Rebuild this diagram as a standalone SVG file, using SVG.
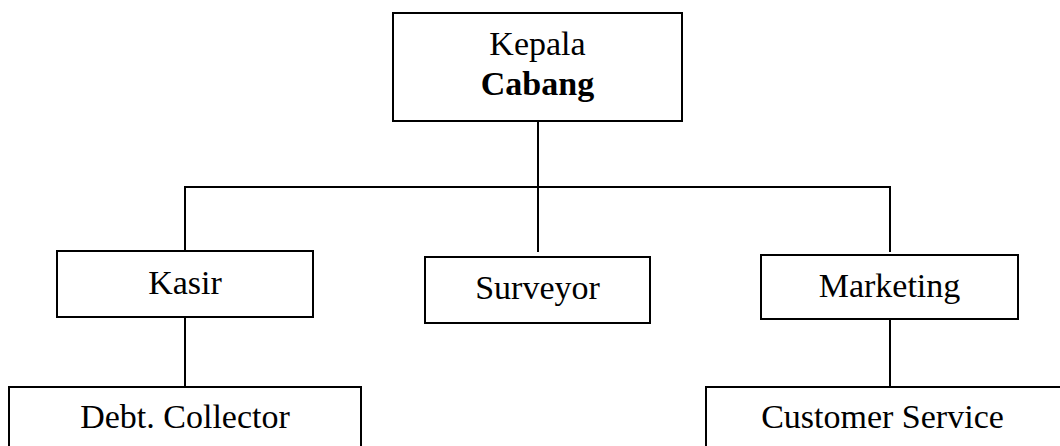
<svg xmlns="http://www.w3.org/2000/svg" width="1060" height="446" viewBox="0 0 1060 446">
<style>
.box{fill:#fff;stroke:#000;stroke-width:2}
.lbl{font-family:"Liberation Serif","Times New Roman",serif;font-size:34px;fill:#000;text-anchor:middle}
.b{font-weight:bold}
.con line{stroke:#000;stroke-width:2}
</style>
<rect width="1060" height="446" fill="#fff"/>
<g class="con" id="connectors">
<line x1="538" y1="121" x2="538" y2="252"/>
<line x1="184" y1="187" x2="891" y2="187"/>
<line x1="185" y1="186" x2="185" y2="251"/>
<line x1="890" y1="186" x2="890" y2="252"/>
<line x1="185" y1="317" x2="185" y2="387"/>
<line x1="890" y1="319" x2="890" y2="387"/>
</g>
<g id="kepala-cabang">
<rect class="box" x="393" y="13" width="289" height="108"/>
<text class="lbl" x="537.5" y="55">Kepala</text>
<text class="lbl b" x="537.5" y="95">Cabang</text>
</g>
<g id="kasir">
<rect class="box" x="57" y="251" width="256" height="66"/>
<text class="lbl" x="185" y="294">Kasir</text>
</g>
<g id="surveyor">
<rect class="box" x="425" y="257" width="225" height="66"/>
<text class="lbl" x="537.5" y="299">Surveyor</text>
</g>
<g id="marketing">
<rect class="box" x="761" y="255" width="257" height="64"/>
<text class="lbl" x="889.5" y="297">Marketing</text>
</g>
<g id="debt-collector">
<rect class="box" x="9" y="387" width="352" height="80"/>
<text class="lbl" x="185" y="428">Debt. Collector</text>
</g>
<g id="customer-service">
<rect class="box" x="706" y="387" width="360" height="80"/>
<text class="lbl" x="882.5" y="428">Customer Service</text>
</g>
</svg>
